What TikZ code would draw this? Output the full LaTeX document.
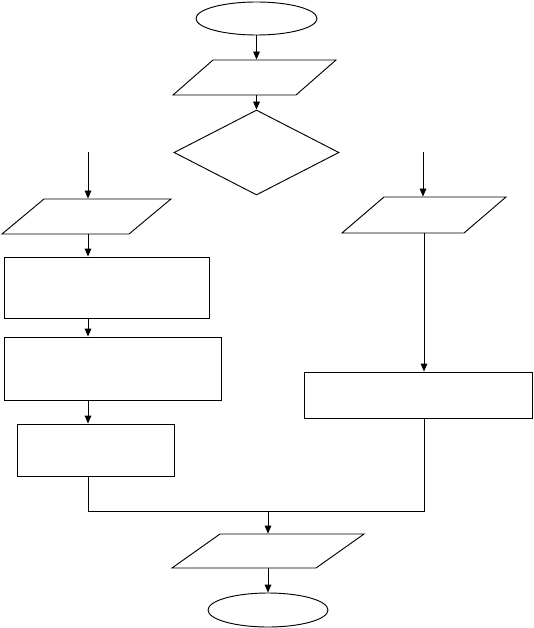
\documentclass[tikz,border=0pt]{standalone}
\usetikzlibrary{arrows.meta,shapes.geometric}
\begin{document}
\begin{tikzpicture}[x=0.3mm,y=-0.3mm, line width=0.8pt,
        term/.style={draw, ellipse, inner sep=0pt},
        datos/.style 2 args={draw, trapezium, trapezium left angle=#1, trapezium right angle=#2},
        decision/.style={draw, diamond, inner sep=0pt},
        proceso/.style={draw, rectangle, inner sep=0pt},
        flecha/.style={-{Triangle[length=2.4mm,width=2mm]}}]
        \useasboundingbox (0,0) rectangle (533,628);
        % tronco superior
        \node[term, minimum width=36.3mm, minimum height=9.9mm] (inicio) at (256.5,18.5) {};
        \node[datos={41.2}{138.8}, inner xsep=12.45mm, inner ysep=5.25mm] (leer) at (254.5,77.5) {};
        \node[decision, minimum width=49.5mm, minimum height=25.5mm] (cond) at (256.5,152.5) {};
        \draw[flecha] (inicio.south) -- (inicio.south |- leer.north);
        \draw[flecha] (leer.south -| cond.north) -- (cond.north);
        % rama izquierda
        \coordinate (ramaI) at (88,152);
        \node[datos={39.8}{140.2}, inner xsep=12.75mm, inner ysep=5.25mm] (leerI) at (86.5,216.5) {};
        \node[proceso, minimum width=61.5mm, minimum height=18.3mm] (pasoA) at (106.5,287.5) {};
        \node[proceso, minimum width=65.1mm, minimum height=18.9mm] (pasoB) at (112.5,368.5) {};
        \node[proceso, minimum width=47.1mm, minimum height=15.6mm] (pasoC) at (95.5,450) {};
        \draw[flecha] (ramaI) -- (ramaI |- leerI.north);
        \draw[flecha] (leerI.south -| ramaI) -- (ramaI |- pasoA.north);
        \draw[flecha] (pasoA.south -| ramaI) -- (ramaI |- pasoB.north);
        \draw[flecha] (pasoB.south -| ramaI) -- (ramaI |- pasoC.north);
        % rama derecha
        \coordinate (ramaD) at (423,152);
        \node[datos={40.6}{139.4}, inner xsep=12mm, inner ysep=5.4mm] (leerD) at (424,215) {};
        \node[proceso, minimum width=68.4mm, minimum height=13.8mm] (pasoD) at (418,395) {};
        \draw[flecha] (ramaD) -- (ramaD |- leerD.north);
        \draw[flecha] (leerD.south) -- (leerD.south |- pasoD.north);
        % union y salida
        \coordinate (union) at (268,511);
        \node[datos={35.3}{144.7}, inner xsep=14.4mm, inner ysep=5.1mm] (escribir) at (268,551) {};
        \node[term, minimum width=36mm, minimum height=10.2mm] (fin) at (268,610) {};
        \draw (pasoC.south -| ramaI) -- (ramaI |- union) -- (union);
        \draw (pasoD.south -| leerD.south) -- (leerD.south |- union) -- (union);
        \draw[flecha] (union) -- (escribir.north);
        \draw[flecha] (escribir.south) -- (fin.north);
\end{tikzpicture}
\end{document}
